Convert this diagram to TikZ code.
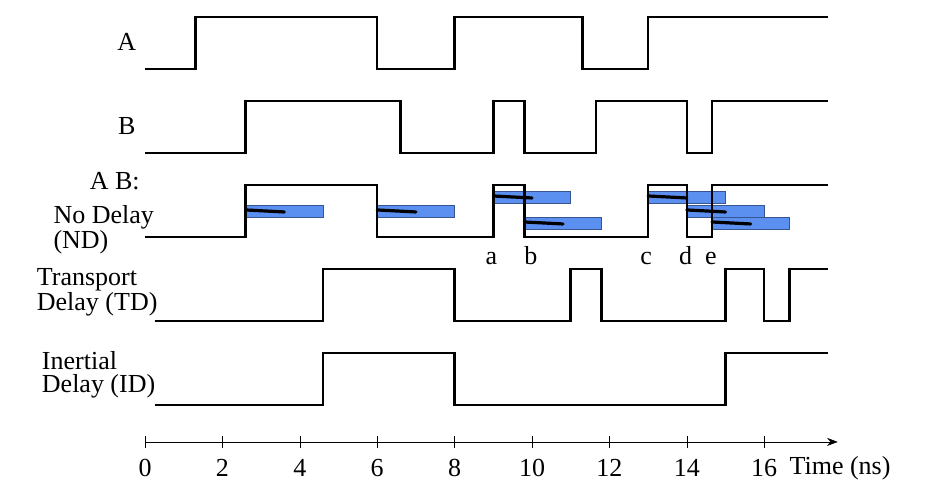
\documentclass[tikz,border=0pt]{standalone}
\usepackage{fontspec}
\setmainfont{Liberation Serif}
\usetikzlibrary{arrows.meta,positioning}
\definecolor{barblue}{HTML}{5B8FF0}
\tikzset{
  wave/.style={line width=1.9pt},
  lbl/.style={font=\fontsize{19.5}{17.5}\selectfont, inner sep=0pt},
  bar/.style={fill=barblue, draw=barblue!60!black, line width=0.4pt},
  slope/.style={line width=2.4pt, line cap=round},
}
\begin{document}
\begin{tikzpicture}[x=29.03pt, y=-0.75pt]
    \useasboundingbox (-3.747,0) rectangle (20.31,487);
    % Signal A
    \draw[wave] (0,69) -- (1.3,69) -- (1.3,17) -- (6,17) -- (6,69) -- (8,69) -- (8,17)
        -- (11.3,17) -- (11.3,69) -- (13,69) -- (13,17) -- (17.65,17);
    % Signal B
    \draw[wave] (0,153) -- (2.6,153) -- (2.6,101) -- (6.6,101) -- (6.6,153) -- (9,153) -- (9,101)
        -- (9.8,101) -- (9.8,153) -- (11.65,153) -- (11.65,101) -- (14,101) -- (14,153)
        -- (14.65,153) -- (14.65,101) -- (17.65,101);
    % Delay bars
    \foreach \t/\ya in {2.6/205, 6/205, 9/191, 9.8/217, 13/191, 14/205, 14.65/217} {
        \draw[bar] (\t,\ya) rectangle (\t+2,\ya+12);
        \draw[slope] (\t,\ya+5) -- (\t+1,\ya+7);
    }
    % Signal AB (no delay)
    \draw[wave] (0,237) -- (2.6,237) -- (2.6,185) -- (6,185) -- (6,237) -- (9,237) -- (9,185)
        -- (9.8,185) -- (9.8,237) -- (13,237) -- (13,185) -- (14,185) -- (14,237)
        -- (14.65,237) -- (14.65,185) -- (17.65,185);
    % Transport delay
    \draw[wave] (0.25,321) -- (4.6,321) -- (4.6,269) -- (8,269) -- (8,321) -- (11,321) -- (11,269)
        -- (11.8,269) -- (11.8,321) -- (15,321) -- (15,269) -- (16,269) -- (16,321)
        -- (16.65,321) -- (16.65,269) -- (17.65,269);
    % Inertial delay
    \draw[wave] (0.25,405) -- (4.6,405) -- (4.6,353) -- (8,353) -- (8,405) -- (15,405)
        -- (15,353) -- (17.65,353);
    % Time axis
    \draw[-{Stealth[length=8pt]}] (0,442) -- (17.9,442);
    \foreach \i in {0,2,...,16} {
        \draw (\i,436) -- (\i,448);
        \node[lbl] (t\i) at (\i,468) {\i};
    }
    \node[lbl, anchor=west] (tlabel) at (16.65,468) {Time (ns)};
    % Labels
    \node[lbl] (la) at (-0.47,42) {A};
    \node[lbl] (lb) at (-0.47,126) {B};
    \node[lbl] (lab) at (-0.78,181) {A B:};
    \node[lbl, anchor=west, align=left] (lnd) at (-2.37,229.5) {No Delay\\(ND)};
    \node[lbl, anchor=west, align=left] (ltd) at (-2.8,292.5) {Transport\\Delay (TD)};
    \node[lbl, anchor=west, align=left] (lid) at (-2.67,375) {Inertial\\Delay (ID)};
    \foreach \n/\t in {a/8.95, b/9.97, c/12.95, d/13.97, e/14.62}
        \node[lbl, anchor=base] (m\n) at (\t,265) {\n};
\end{tikzpicture}
\end{document}
